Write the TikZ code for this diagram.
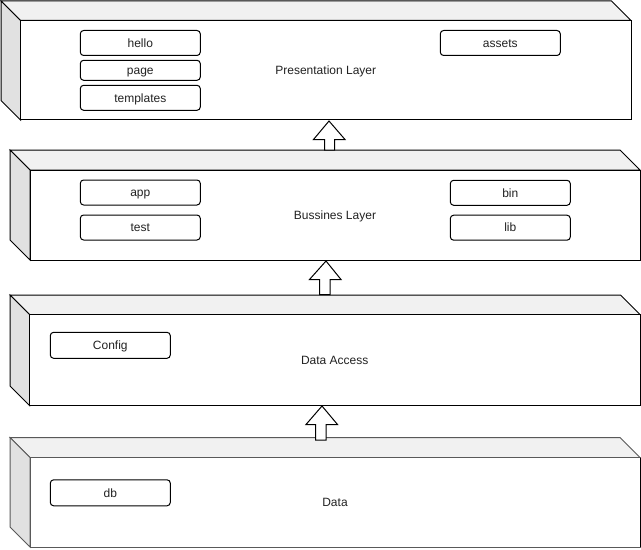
\documentclass[tikz,border=0pt]{standalone}
\usepackage{fontspec}
\setmainfont{Liberation Sans}
\definecolor{topface}{HTML}{F1F1F1}
\definecolor{sideface}{HTML}{E1E1E1}
\definecolor{txt}{HTML}{222222}
\newcommand{\mycube}[7]{% name, x1, y1, x2, y2, depth, label
  \pgfmathsetmacro{\cxa}{#2}\pgfmathsetmacro{\cya}{#3}%
  \pgfmathsetmacro{\cxb}{#4}\pgfmathsetmacro{\cyb}{#5}%
  \pgfmathsetmacro{\cd}{#6}%
  \pgfmathsetmacro{\fxa}{\cxa+\cd}\pgfmathsetmacro{\fya}{\cya+\cd}%
  \pgfmathsetmacro{\bxb}{\cxb-\cd}\pgfmathsetmacro{\byb}{\cyb-\cd}%
  \pgfmathsetmacro{\fw}{(\cxb-\fxa)*0.75}\pgfmathsetmacro{\fh}{(\cyb-\fya)*0.75}%
  \filldraw[cubeline, fill=topface] (\cxa,\cya) -- (\bxb,\cya) -- (\cxb,\fya) -- (\fxa,\fya) -- cycle;
  \filldraw[cubeline, fill=sideface] (\cxa,\cya) -- (\fxa,\fya) -- (\fxa,\cyb) -- (\cxa,\byb) -- cycle;
  \node[face, minimum width=\fw pt, minimum height=\fh pt] (#1) at ({(\fxa+\cxb)/2},{(\fya+\cyb)/2}) {#7};
}
\begin{document}
\begin{tikzpicture}[x=0.75pt, y=-0.75pt,
  cubeline/.style={draw=black, line width=0.75pt, line join=miter},
  face/.style={cubeline, fill=white, rectangle, inner sep=0pt, outer sep=0pt, font=\fontsize{9}{11}\selectfont, text=txt, text height=6.4pt, text depth=0pt},
  item/.style={draw=black, line width=0.75pt, fill=white, rounded corners=2.5pt, inner sep=0pt, outer sep=0pt, minimum width=90pt, font=\fontsize{9}{11}\selectfont, text=txt, text height=6.4pt, text depth=0pt},
  blockarrow/.style={draw=black, line width=0.75pt, fill=white, line join=miter}]
\useasboundingbox (0,0) rectangle (641,549);

% layers
\mycube{pres}{1}{1}{631}{120}{19.5}{Presentation Layer}
\mycube{bus}{10}{150}{640}{260}{20}{Bussines Layer}
\mycube{dacc}{10}{295}{640}{405.5}{19.5}{Data Access}
\begin{scope}
\tikzset{cubeline/.style={draw=black!65, line width=0.75pt, line join=miter}}
\mycube{data}{10}{437.5}{640}{547}{20}{Data}
\end{scope}
\draw[line width=0.75pt] (data.north east) -- (data.south east);

% presentation items
\node[item, minimum height=18.75pt] (hello) at (140.3,43) {hello};
\node[item, minimum height=15pt] (page) at (140.3,70.3) {page};
\node[item, minimum height=18.75pt] (templates) at (140.3,97.8) {templates};
\node[item, minimum height=18.75pt] (assets) at (500.3,43) {assets};

% business items
\node[item, minimum height=18.75pt] (app) at (140.3,192.5) {app};
\node[item, minimum height=18.75pt] (test) at (140.3,227.5) {test};
\node[item, minimum height=18.75pt] (bin) at (510.3,192.8) {bin};
\node[item, minimum height=18.75pt] (lib) at (510.3,227.7) {lib};

% data access / data items
\node[item, minimum height=19.5pt] (config) at (110.3,345.3) {Config};
\node[item, minimum height=19.5pt] (db) at (110.3,492.8) {db};

% block arrows
\draw[blockarrow] (329,121) -- (345,139.5) -- (334.5,139.5) -- (334.5,150) -- (324.5,150) -- (324.5,139.5) -- (313.5,139.5) -- cycle;
\draw[blockarrow] (326,261) -- (341,279.5) -- (330,279.5) -- (330,294.5) -- (319.5,294.5) -- (319.5,279.5) -- (309.5,279.5) -- cycle;
\draw[blockarrow] (322,406) -- (337.5,424.5) -- (326,424.5) -- (326,440) -- (315.5,440) -- (315.5,424.5) -- (306,424.5) -- cycle;
\end{tikzpicture}
\end{document}
